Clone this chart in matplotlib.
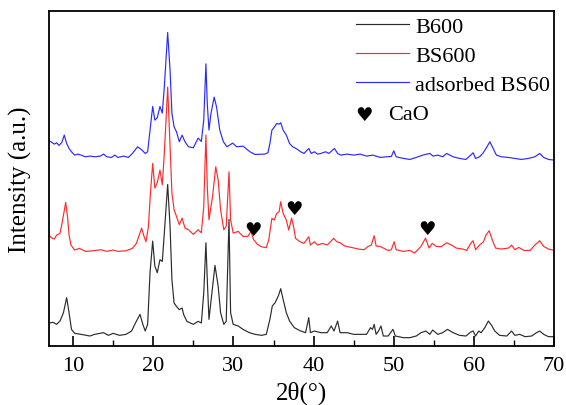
import matplotlib
matplotlib.use('Agg')
import matplotlib.pyplot as plt
from matplotlib.ticker import MultipleLocator

# XRD patterns (arbitrary intensity, stacked)
x_b600 = [7.0, 7.5, 7.95, 8.37, 8.8, 9.2, 9.5, 9.8, 10.2, 11.0, 12.1, 12.7, 13.8, 14.4, 15.0, 15.8,
          16.6, 17.3, 17.8, 18.35, 18.7, 19.0, 19.3, 19.6, 19.93, 20.2, 20.5, 20.84, 21.13, 21.38,
          21.8, 22.1, 22.33, 22.6, 22.9, 23.25, 23.6, 23.8, 24.2, 25.0, 25.6, 26.0, 26.3, 26.57,
          26.74, 26.95, 27.4, 27.7, 28.1, 28.4, 28.8, 29.1, 29.45, 29.65, 29.97, 30.6, 31.2, 32.0,
          32.7, 33.5, 34.1, 34.55, 34.85, 35.2, 35.6, 35.9, 36.2, 36.6, 37.0, 37.6, 38.4, 39.0,
          39.4, 39.6, 40.1, 40.9, 41.7, 42.2, 42.55, 43.0, 43.3, 44.2, 45.0, 46.2, 46.6, 47.1,
          47.35, 47.56, 47.8, 48.1, 48.4, 48.7, 49.3, 49.9, 50.2, 51.2, 52.0, 52.8, 53.4, 54.0,
          54.5, 54.85, 55.5, 56.1, 56.7, 57.4, 58.2, 59.0, 59.6, 59.9, 60.2, 60.6, 60.9, 61.35,
          61.8, 62.2, 62.6, 63.2, 64.1, 64.7, 65.1, 65.7, 66.4, 67.2, 67.8, 68.2, 68.7, 69.3, 70.0]
y_b600 = [6.9, 7.1, 6.5, 7.5, 10.0, 14.5, 10.0, 5.0, 3.8, 3.5, 3.0, 3.5, 4.0, 3.2, 3.8, 3.2,
          3.5, 4.5, 7.0, 9.5, 6.5, 4.5, 6.5, 22.0, 31.5, 24.0, 22.0, 25.9, 25.4, 33.8,
          48.5, 35.8, 19.9, 12.9, 11.9, 10.9, 11.4, 9.4, 7.4, 6.5, 7.4, 6.9, 15.9, 31.0,
          19.9, 8.0, 17.9, 24.2, 17.9, 10.0, 6.5, 7.4, 38.0, 10.0, 6.5, 6.0, 5.0, 4.0,
          3.5, 3.2, 3.5, 8.0, 12.0, 13.0, 15.0, 17.2, 14.0, 10.0, 7.5, 5.5, 4.5, 4.0,
          8.5, 4.0, 4.5, 4.0, 4.0, 6.0, 4.5, 7.5, 4.0, 4.0, 3.5, 3.5, 3.5, 5.5,
          5.0, 6.5, 3.5, 4.5, 6.0, 3.0, 3.0, 5.0, 3.0, 2.5, 2.5, 3.0, 4.0, 4.5,
          3.5, 4.8, 3.5, 4.0, 5.0, 4.0, 3.2, 3.0, 4.2, 4.5, 3.0, 4.5, 4.0, 5.5,
          7.5, 6.2, 4.5, 3.2, 3.0, 4.5, 3.2, 3.5, 2.8, 3.0, 4.0, 4.5, 3.5, 2.8, 2.8]

x_bs600 = [7.0, 7.3, 7.66, 7.95, 8.37, 8.66, 9.08, 9.33, 9.5, 9.74, 10.2, 10.8, 11.2, 11.6, 12.5,
           13.5, 14.2, 15.0, 15.6, 16.6, 17.4, 17.9, 18.55, 18.85, 19.1, 19.4, 19.65, 19.93, 20.2,
           20.5, 20.84, 21.13, 21.38, 21.8, 22.1, 22.33, 22.6, 22.9, 23.25, 23.6, 23.96, 24.4,
           25.0, 25.6, 26.0, 26.3, 26.57, 26.74, 26.95, 27.4, 27.8, 28.1, 28.4, 28.8, 29.1, 29.45,
           29.65, 29.97, 30.6, 31.2, 31.8, 32.2, 32.5, 33.0, 33.5, 34.1, 34.4, 34.8, 35.1, 35.4,
           35.7, 35.9, 36.2, 36.6, 36.9, 37.26, 37.5, 37.75, 38.3, 38.8, 39.4, 39.6, 40.1, 40.5,
           41.1, 41.7, 42.5, 42.9, 43.3, 43.9, 44.7, 45.6, 46.3, 46.8, 47.2, 47.56, 47.8, 48.3,
           48.7, 49.3, 49.7, 50.05, 50.3, 51.2, 52.0, 52.6, 53.0, 53.4, 53.96, 54.2, 54.4, 54.8,
           55.3, 55.9, 56.6, 57.2, 57.8, 58.6, 59.1, 59.6, 59.9, 60.2, 60.7, 61.2, 61.5, 61.9,
           62.3, 62.7, 63.4, 64.3, 64.7, 65.1, 65.6, 66.2, 67.0, 67.6, 68.2, 68.7, 69.3, 70.0]
y_bs600 = [33.3, 32.5, 32.1, 33.3, 33.8, 37.3, 43.1, 38.3, 33.3, 30.3, 28.8, 29.3, 28.8, 28.4, 28.6,
           28.9, 28.4, 28.8, 28.4, 28.6, 29.3, 30.8, 35.4, 32.9, 31.3, 35.9, 45.9, 54.8, 47.4,
           49.0, 52.8, 48.4, 57.8, 77.7, 59.8, 45.9, 40.9, 38.9, 36.4, 38.4, 35.4, 34.9,
           33.5, 34.9, 34.0, 41.9, 63.3, 47.9, 37.9, 44.9, 53.8, 49.8, 40.9, 34.9, 35.9, 52.3,
           37.9, 33.9, 34.4, 32.9, 32.9, 34.4, 32.0, 30.5, 29.8, 29.5, 31.8, 38.3, 37.8, 39.8,
           40.3, 43.3, 39.8, 37.8, 34.8, 38.4, 35.9, 32.3, 31.3, 30.8, 32.8, 30.3, 31.3, 30.3,
           30.8, 30.3, 32.3, 31.3, 31.0, 30.0, 29.6, 29.1, 28.9, 29.9, 30.3, 33.1, 30.0, 29.9,
           29.4, 28.7, 28.9, 31.3, 28.9, 28.4, 28.7, 27.9, 28.9, 29.9, 32.4, 30.8, 29.4, 30.8,
           29.9, 29.8, 31.0, 30.3, 29.4, 29.1, 28.7, 30.8, 31.6, 28.9, 30.3, 31.3, 33.3, 34.6,
           31.8, 29.4, 29.1, 29.4, 30.3, 28.9, 29.6, 28.7, 28.7, 30.3, 31.6, 29.9, 29.1, 28.7]

x_ads = [7.0, 7.3, 7.66, 7.95, 8.25, 8.6, 8.9, 9.2, 9.5, 9.8, 10.2, 10.6, 11.0, 11.5, 12.1, 12.7,
         13.4, 13.8, 14.2, 14.8, 15.2, 15.6, 16.3, 16.9, 17.4, 18.05, 18.6, 19.0, 19.3, 19.6,
         19.93, 20.2, 20.5, 20.84, 21.13, 21.38, 21.8, 22.1, 22.33, 22.6, 22.9, 23.25, 23.6,
         23.96, 24.4, 25.0, 25.6, 26.0, 26.3, 26.57, 26.74, 26.95, 27.2, 27.6, 27.9, 28.3, 28.75,
         29.2, 29.9, 30.4, 31.2, 32.06, 32.7, 33.9, 34.3, 34.55, 34.8, 35.1, 35.4, 35.7, 35.9,
         36.2, 36.6, 37.0, 37.4, 37.8, 38.4, 38.8, 39.4, 39.7, 40.1, 40.5, 40.9, 41.5, 41.9,
         42.6, 43.0, 43.4, 44.2, 45.0, 45.8, 46.6, 47.4, 48.3, 49.1, 49.7, 50.0, 50.3, 51.2,
         52.0, 52.8, 53.6, 54.5, 54.9, 55.5, 56.1, 56.6, 57.4, 58.2, 59.0, 59.6, 59.9, 60.2,
         60.7, 61.1, 61.5, 61.99, 62.4, 62.8, 63.4, 64.3, 65.1, 65.9, 66.8, 67.6, 68.2, 68.7,
         69.3, 70.0]
y_ads = [61.6, 61.2, 60.6, 61.0, 60.2, 61.1, 63.3, 60.8, 59.3, 58.3, 57.3, 57.6, 57.3, 56.8, 57.0, 56.8,
         57.0, 57.6, 56.8, 56.6, 57.3, 56.6, 57.0, 56.6, 57.8, 59.8, 58.8, 57.8, 58.3, 64.8,
         71.9, 67.8, 68.5, 71.9, 69.9, 77.7, 94.1, 82.7, 69.8, 65.8, 64.3, 61.3, 63.3,
         61.3, 59.8, 59.5, 62.4, 61.4, 67.8, 84.7, 72.7, 64.8, 69.8, 74.7, 71.7, 64.8, 61.3,
         59.8, 60.9, 59.8, 60.0, 58.3, 57.5, 57.6, 58.0, 60.8, 64.8, 65.7, 66.8, 66.6, 67.0,
         64.8, 63.3, 60.8, 59.8, 59.3, 58.3, 57.8, 59.3, 57.8, 58.3, 57.6, 57.8, 58.3, 57.8,
         59.3, 57.8, 57.3, 57.6, 57.3, 57.6, 57.0, 57.3, 56.6, 56.8, 56.9, 58.6, 56.8, 56.3,
         56.0, 56.6, 57.3, 57.8, 57.0, 57.3, 56.8, 57.8, 56.8, 56.3, 56.0, 57.3, 58.0, 56.3,
         56.8, 57.8, 59.3, 61.3, 59.3, 57.3, 56.8, 56.6, 56.3, 56.0, 56.3, 56.8, 57.8, 56.6,
         56.0, 55.8]

# CaO reflections marked on BS600
cao_x = [32.4, 37.6, 54.2]
cao_y = [34.9, 41.2, 35.2]

plt.rcParams['font.family'] = ['Liberation Serif', 'DejaVu Sans']
plt.rcParams['mathtext.fontset'] = 'stix'

fig = plt.figure(figsize=(5.66, 4.06), dpi=100)
ax = fig.add_axes([0.0866, 0.1453, 0.8924, 0.8247])

ax.plot(x_b600, y_b600, color='#2b2b2b', lw=0.85, label='B600')
ax.plot(x_bs600, y_bs600, color='#ff2a2a', lw=0.85, label='BS600')
ax.plot(x_ads, y_ads, color='#2a2aff', lw=0.85, label='adsorbed BS60')

for cx, cy in zip(cao_x, cao_y):
    ax.text(cx, cy, '\u2665', ha='center', va='center', fontsize=14, family='DejaVu Sans')

ax.text(0.624, 0.69, '\u2665', transform=ax.transAxes, ha='center', va='center',
        fontsize=14, family='DejaVu Sans')
ax.text(0.672, 0.69, 'CaO', transform=ax.transAxes, ha='left', va='center', fontsize=16)

leg = ax.legend(loc='upper left', bbox_to_anchor=(0.577, 1.031), frameon=False, fontsize=16,
                handlelength=2.4, handletextpad=0.25, labelspacing=0.38, borderpad=0.2)

ax.set_xlim(7, 70)
ax.set_ylim(0, 100.5)
ax.xaxis.set_major_locator(MultipleLocator(10))
ax.xaxis.set_minor_locator(MultipleLocator(5))
ax.tick_params(axis='x', which='major', direction='in', length=7, width=1.2, labelsize=16, pad=7)
ax.tick_params(axis='x', which='minor', direction='in', length=4, width=1.0)
ax.set_yticks([])
for sp in ax.spines.values():
    sp.set_linewidth(1.3)

ax.set_xlabel('2\u03b8(\u00b0)', fontsize=18, labelpad=4)
ax.set_ylabel('Intensity (a.u.)', fontsize=18, labelpad=12)

fig.savefig('out.png', dpi=100)
